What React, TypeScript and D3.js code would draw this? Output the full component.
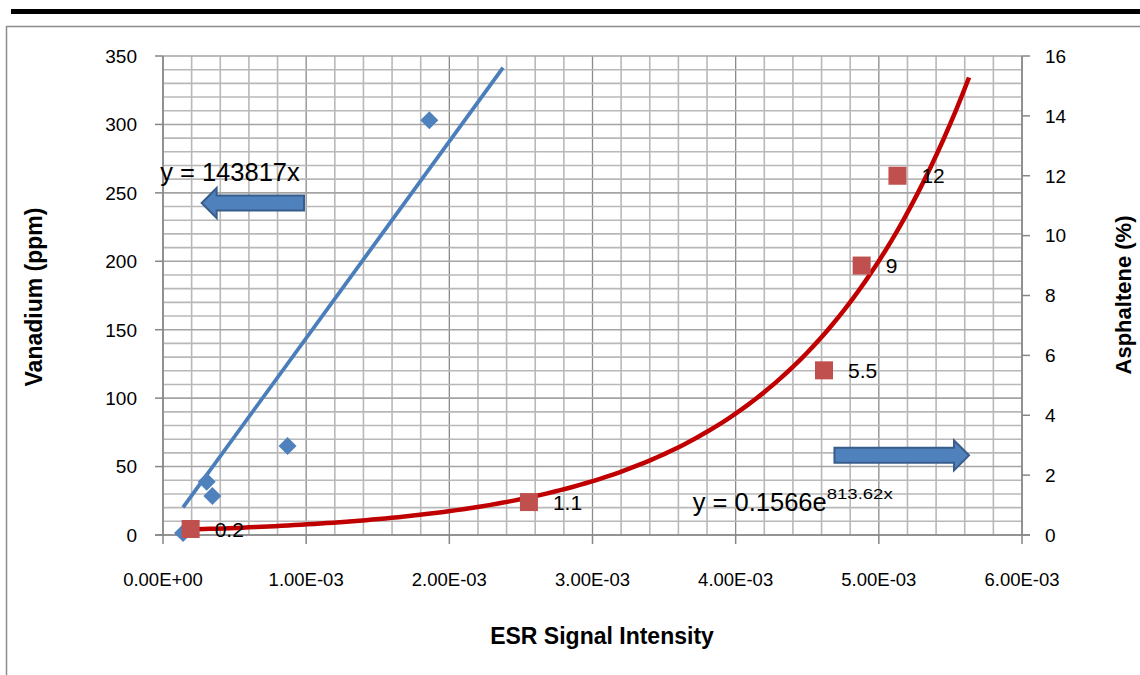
import { useEffect, useRef } from 'react';
import * as d3 from 'd3';

// ESR signal vs vanadium (left axis)
const vanadiumEsr = [1.4e-4, 3.05e-4, 3.45e-4, 8.7e-4, 1.86e-3];
const vanadiumPpm = [1.5, 39, 28.5, 65, 303];

// ESR signal vs asphaltene (right axis)
const asphEsr = [1.93e-4, 2.556e-3, 4.617e-3, 4.88e-3, 5.13e-3];
const asphPct = [0.2, 1.1, 5.5, 9, 12];
const asphLabels = ['0.2', '1.1', '5.5', '9', '12'];

// trendlines as reported on the chart
const linSlope = 143817;
const linEnd = 2.375e-3;
const expA = 0.1566;
const expB = 813.62;
const expEnd = 5.63e-3;

const xTicks = [0, 1e-3, 2e-3, 3e-3, 4e-3, 5e-3, 6e-3];
const leftTicks = [0, 50, 100, 150, 200, 250, 300, 350];
const rightTicks = [0, 2, 4, 6, 8, 10, 12, 14, 16];

const W = 1140, H = 675;
const FONT = '"Liberation Sans", Arial, sans-serif';

const fmtSci = (v: number) => {
  if (v === 0) return '0.00E+00';
  const e = Math.floor(Math.log10(Math.abs(v)) + 1e-9);
  const m = v / Math.pow(10, e);
  const sign = e < 0 ? '-' : '+';
  return m.toFixed(2) + 'E' + sign + String(Math.abs(e)).padStart(2, '0');
};

const App = () => {
  const ref = useRef<SVGSVGElement | null>(null);

  useEffect(() => {
    if (!ref.current) return;
    const svg = d3.select(ref.current);
    svg.selectAll('*').remove();

    const x = d3.scaleLinear().domain([0, 6e-3]).range([163, 1022]);
    const yL = d3.scaleLinear().domain([0, 350]).range([535, 56]);
    const yR = d3.scaleLinear().domain([0, 16]).range([535, 56]);

    svg.append('rect').attr('width', W).attr('height', H).attr('fill', '#fff');

    // page frame
    svg.append('rect').attr('x', 11).attr('y', 9).attr('width', W - 11).attr('height', 5).attr('fill', '#000');
    svg.append('path')
      .attr('d', `M6.5,${H} L6.5,26.5 L${W},26.5`)
      .attr('fill', 'none').attr('stroke', '#8c8c8c').attr('stroke-width', 1.5);

    // grid
    const grid = svg.append('g');
    d3.range(0, 6e-3 + 1e-9, 2e-4).forEach((v, i) => {
      const major = i % 5 === 0;
      grid.append('line')
        .attr('x1', x(v)).attr('x2', x(v)).attr('y1', yL(350)).attr('y2', yL(0))
        .attr('stroke', major ? '#8a8a8a' : '#b8b8b8').attr('stroke-width', major ? 1.3 : 1.6);
    });
    d3.range(0, 351, 10).forEach(v => {
      const major = v % 50 === 0;
      grid.append('line')
        .attr('x1', x(0)).attr('x2', x(6e-3)).attr('y1', yL(v)).attr('y2', yL(v))
        .attr('stroke', major ? '#a4a4a4' : '#b8b8b8').attr('stroke-width', 1.6);
    });

    // axes
    const axisColor = '#868686';
    const ax = svg.append('g').attr('stroke', axisColor).attr('stroke-width', 1.5);
    ax.append('line').attr('x1', x(0)).attr('x2', x(0)).attr('y1', yL(350)).attr('y2', yL(0));
    ax.append('line').attr('x1', x(6e-3)).attr('x2', x(6e-3)).attr('y1', yR(16)).attr('y2', yR(0));
    ax.append('line').attr('x1', x(0) - 8).attr('x2', x(6e-3) + 8).attr('y1', yL(0)).attr('y2', yL(0));
    leftTicks.forEach(v => ax.append('line').attr('x1', x(0) - 8).attr('x2', x(0)).attr('y1', yL(v)).attr('y2', yL(v)));
    rightTicks.forEach(v => ax.append('line').attr('x1', x(6e-3)).attr('x2', x(6e-3) + 8).attr('y1', yR(v)).attr('y2', yR(v)));
    xTicks.forEach(v => ax.append('line').attr('x1', x(v)).attr('x2', x(v)).attr('y1', yL(0)).attr('y2', yL(0) + 9));

    const txt = svg.append('g').attr('font-family', FONT).attr('fill', '#000');
    leftTicks.forEach(v => txt.append('text')
      .attr('x', 137).attr('y', yL(v)).attr('dy', '0.36em').attr('text-anchor', 'end')
      .attr('font-size', 19).text(v));
    rightTicks.forEach(v => txt.append('text')
      .attr('x', 1045).attr('y', yR(v)).attr('dy', '0.36em').attr('text-anchor', 'start')
      .attr('font-size', 19).text(v));
    xTicks.forEach(v => txt.append('text')
      .attr('x', x(v)).attr('y', 586).attr('text-anchor', 'middle')
      .attr('font-size', 18.5).text(fmtSci(v)));

    txt.append('text').attr('transform', 'translate(42,297) rotate(-90)')
      .attr('text-anchor', 'middle').attr('font-weight', 'bold').attr('font-size', 23)
      .text('Vanadium (ppm)');
    txt.append('text').attr('transform', 'translate(1131,295) rotate(-90)')
      .attr('text-anchor', 'middle').attr('font-weight', 'bold').attr('font-size', 22)
      .text('Asphaltene (%)');
    txt.append('text').attr('x', 602).attr('y', 644)
      .attr('text-anchor', 'middle').attr('font-weight', 'bold').attr('font-size', 23)
      .text('ESR Signal Intensity');

    // trendlines
    const linStart = d3.min(vanadiumEsr) as number;
    svg.append('path')
      .datum([linStart, linEnd])
      .attr('fill', 'none').attr('stroke', '#4a7ebb').attr('stroke-width', 3.8)
      .attr('d', d3.line<number>().x(d => x(d)).y(d => yL(linSlope * d)));

    const expStart = d3.min(asphEsr) as number;
    const expPts = d3.range(0, 121).map(i => expStart + (expEnd - expStart) * i / 120);
    svg.append('path')
      .datum(expPts)
      .attr('fill', 'none').attr('stroke', '#c00000').attr('stroke-width', 4.5)
      .attr('d', d3.line<number>().x(d => x(d)).y(d => yR(expA * Math.exp(expB * d))));

    // markers
    svg.append('g').selectAll('path')
      .data(vanadiumEsr.map((e, i) => [e, vanadiumPpm[i]]))
      .join('path')
      .attr('transform', d => `translate(${x(d[0])},${yL(d[1])})`)
      .attr('d', 'M0,-9 L9,0 L0,9 L-9,0 Z')
      .attr('fill', '#4f81bd');

    svg.append('g').selectAll('rect')
      .data(asphEsr.map((e, i) => [e, asphPct[i]]))
      .join('rect')
      .attr('x', d => x(d[0]) - 9).attr('y', d => yR(d[1]) - 9)
      .attr('width', 18).attr('height', 18)
      .attr('fill', '#c0504d');

    svg.append('g').attr('font-family', FONT).attr('font-size', 21)
      .selectAll('text')
      .data(asphEsr.map((e, i) => ({ e, v: asphPct[i], t: asphLabels[i] })))
      .join('text')
      .attr('x', d => x(d.e) + 24).attr('y', d => yR(d.v)).attr('dy', '0.36em')
      .text(d => d.t);

    // equations
    txt.append('text').attr('x', x(-0.02e-3)).attr('y', 181)
      .attr('font-size', 25.5).text('y = 143817x');
    const eq = txt.append('text').attr('x', x(3.7e-3)).attr('y', 511).attr('font-size', 25.5);
    eq.append('tspan').text('y = 0.1566e');
    eq.append('tspan').attr('dy', -12).attr('font-size', 15)
      .attr('textLength', 66).attr('lengthAdjust', 'spacingAndGlyphs').text('813.62x');

    // direction arrows (placed in data space)
    const arrow = (tail: number, tip: number, yPix: number) => {
      const xt = x(tail), xp = x(tip);
      const dir = Math.sign(xp - xt);
      const hb = xp - dir * 15;
      const pts: [number, number][] = [
        [xt, yPix - 7.5], [hb, yPix - 7.5], [hb, yPix - 15], [xp, yPix],
        [hb, yPix + 15], [hb, yPix + 7.5], [xt, yPix + 7.5]
      ];
      svg.append('path')
        .attr('d', 'M' + pts.map(p => p.join(',')).join('L') + 'Z')
        .attr('fill', '#4f81bd').attr('stroke', '#385d8a').attr('stroke-width', 2);
    };
    arrow(0.985e-3, 0.27e-3, yL(242.6));
    arrow(4.69e-3, 5.63e-3, yR(2.66));
  }, []);

  return (
    <svg ref={ref} width={W} height={H}
      style={{ position: 'absolute', left: 0, top: 0 }} />
  );
};

export default App;
